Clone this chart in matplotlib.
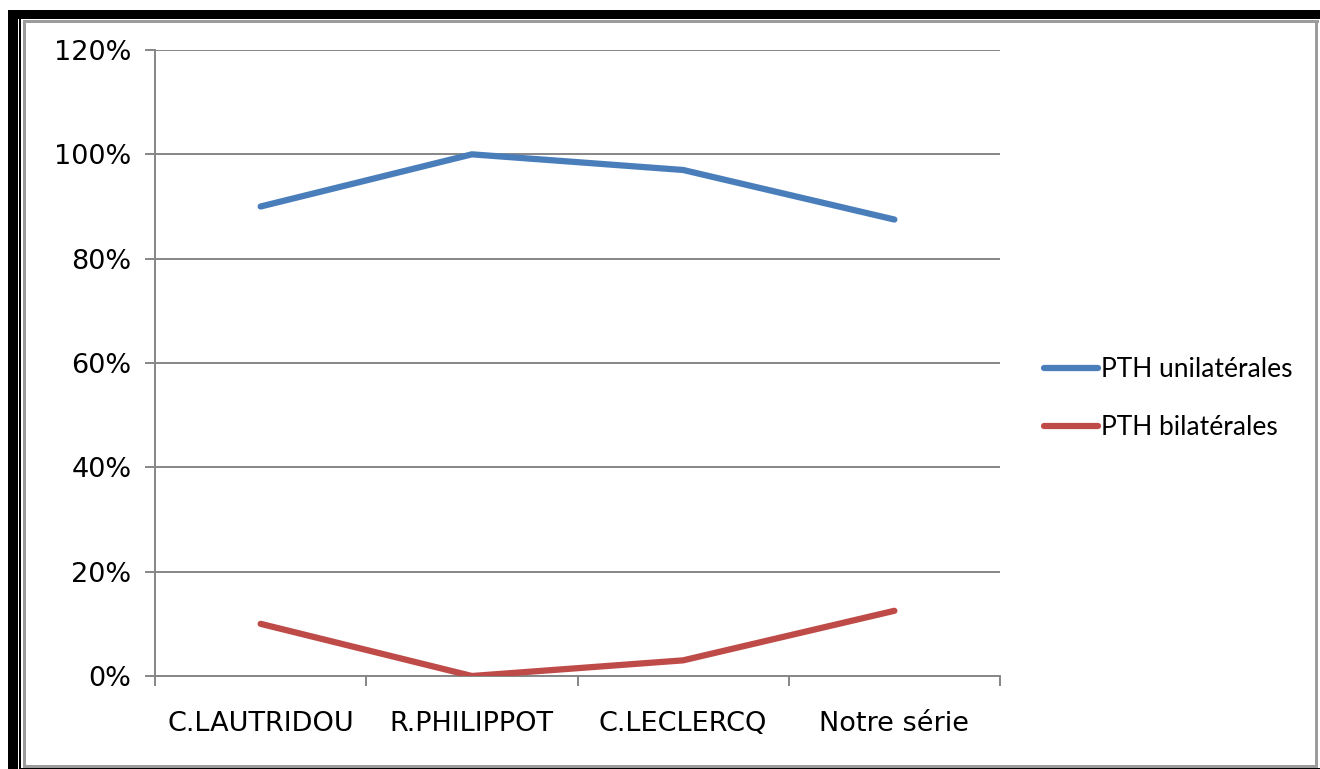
import matplotlib.pyplot as plt
from matplotlib.patches import Rectangle
from matplotlib.ticker import FuncFormatter

# Series per study
studies = ['C.LAUTRIDOU', 'R.PHILIPPOT', 'C.LECLERCQ', 'Notre série']
unilat = [90, 100, 97, 87.5]
bilat = [10, 0, 3, 12.5]
series_names = ['PTH unilatérales', 'PTH bilatérales']

W, H = 1320, 769
fig = plt.figure(figsize=(W / 100, H / 100), dpi=100)
fig.patch.set_facecolor('white')


def px_rect(x0, y0, x1, y1, color):
    # rectangle given in top-down pixel coordinates
    fig.add_artist(Rectangle((x0 / W, 1 - y1 / H), (x1 - x0) / W, (y1 - y0) / H,
                             transform=fig.transFigure, facecolor=color,
                             edgecolor='none', zorder=0))


# page frame: thick black band, thin black rule, grey chart border
px_rect(8, 10, 1320, 18.5, 'black')
px_rect(8, 10, 17.5, 769, 'black')
px_rect(19, 19, 20.5, 769, 'black')
px_rect(19, 767.5, 1320, 769, 'black')
gray = '#9c9c9c'
px_rect(23, 20, 1319, 23, gray)
px_rect(23, 20, 26, 767, gray)
px_rect(1315, 20, 1318, 767, gray)
px_rect(23, 764.5, 1318, 767.5, gray)

ax = fig.add_axes([155 / W, 1 - 676 / H, (1000 - 155) / W, (676 - 50) / H])
x = [i + 0.5 for i in range(len(studies))]

l1, = ax.plot(x, unilat, color='#4A7EBB', lw=4.5, solid_capstyle='round',
              solid_joinstyle='round', zorder=3)
l2, = ax.plot(x, bilat, color='#BE4B48', lw=4.5, solid_capstyle='round',
              solid_joinstyle='round', zorder=3)

ax.set_xlim(0, len(studies))
ax.set_ylim(0, 120)
ax.set_yticks(range(0, 121, 20))
ax.yaxis.set_major_formatter(FuncFormatter(lambda v, p: f'{int(v)}%'))
ax.set_xticks(range(len(studies) + 1))
ax.set_xticklabels([])
ax.set_xticks(x, minor=True)
ax.set_xticklabels(studies, minor=True)

grid_c = '#868686'
ax.grid(axis='y', color=grid_c, lw=1.4)
ax.set_axisbelow(True)
for s in ['top', 'right']:
    ax.spines[s].set_visible(False)
for s in ['left', 'bottom']:
    ax.spines[s].set_color(grid_c)
    ax.spines[s].set_linewidth(1.4)
ax.tick_params(axis='both', which='major', color=grid_c, width=1.4, length=7,
               labelsize=19.5, pad=6)
ax.tick_params(axis='x', which='minor', length=0, labelsize=19.5, pad=25)
ax.tick_params(axis='y', pad=10)

fig.legend([l1, l2], series_names, loc='upper left',
           bbox_to_anchor=(1020 / W, 1 - 333 / H), frameon=False,
           handlelength=2.05, handletextpad=0.12, labelspacing=1.25,
           prop={'family': ['Liberation Sans Narrow', 'Lato', 'DejaVu Sans'],
                 'size': 19})

fig.savefig('out.png', dpi=100)
